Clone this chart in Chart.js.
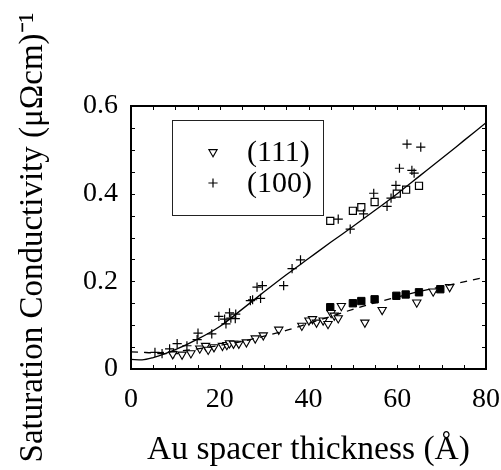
<!DOCTYPE html>
<html>
<head>
<meta charset="utf-8">
<script src="https://cdn.jsdelivr.net/npm/chart.js@4.4.1/dist/chart.umd.min.js"></script>
<style>
  html, body { margin: 0; padding: 0; background: #fff; }
  #wrap { width: 501px; height: 470px; }
</style>
</head>
<body>
<div id="wrap"><canvas id="c" width="501" height="470"></canvas></div>
<script>
// ---------- data ----------
const seriesLabels = ['(111)', '(100)'];

const thickness111 = [9.4, 11.5, 13.5, 15.5, 16.8, 17.4, 18.7, 20.6, 21.6, 22.2, 23.1, 24.3, 26.0, 28.0, 29.8, 33.3, 38.5, 40.1, 40.9, 41.8, 43.3, 44.4, 45.1, 45.8, 46.7, 47.4, 52.7, 56.6, 64.4, 68.1, 71.8];
const cond111      = [0.034, 0.033, 0.036, 0.047, 0.053, 0.044, 0.050, 0.053, 0.055, 0.059, 0.058, 0.058, 0.061, 0.070, 0.077, 0.090, 0.099, 0.111, 0.114, 0.106, 0.111, 0.103, 0.128, 0.122, 0.116, 0.144, 0.106, 0.135, 0.152, 0.177, 0.187];

const thickness100 = [5.4, 7.0, 8.7, 9.6, 10.4, 12.6, 14.9, 15.1, 18.2, 19.8, 21.1, 21.4, 22.2, 22.5, 23.6, 23.5, 26.9, 27.4, 28.4, 29.6, 29.2, 34.4, 36.3, 38.2, 46.7, 49.4, 52.4, 54.7, 57.7, 58.6, 59.7, 60.5, 62.2, 63.3, 63.8, 65.3];
const cond100      = [0.038, 0.035, 0.046, 0.035, 0.058, 0.053, 0.067, 0.082, 0.080, 0.120, 0.114, 0.103, 0.128, 0.116, 0.125, 0.115, 0.156, 0.158, 0.187, 0.190, 0.161, 0.190, 0.229, 0.249, 0.342, 0.319, 0.354, 0.401, 0.371, 0.390, 0.419, 0.458, 0.513, 0.453, 0.447, 0.506];

const thicknessOpenSq = [44.9, 50.0, 51.9, 54.9, 59.9, 62.0, 64.9];
const condOpenSq      = [0.338, 0.361, 0.369, 0.381, 0.400, 0.409, 0.418];

const thicknessFilledSq = [44.9, 50.0, 51.9, 54.9, 59.8, 61.9, 64.9, 69.7];
const condFilledSq      = [0.141, 0.150, 0.155, 0.159, 0.167, 0.170, 0.175, 0.182];

const fitThickness = [0, 2.5, 5, 10, 15, 20, 25, 30, 35, 40, 45, 50, 55, 60, 65, 70, 75, 80];
const fitSolid     = [0.022, 0.021, 0.026, 0.044, 0.068, 0.097, 0.136, 0.176, 0.215, 0.252, 0.289, 0.325, 0.362, 0.400, 0.440, 0.480, 0.521, 0.562];
const fitDashed    = [0.039, 0.038, 0.037, 0.040, 0.046, 0.054, 0.063, 0.075, 0.088, 0.104, 0.120, 0.136, 0.151, 0.164, 0.177, 0.188, 0.199, 0.210];

const xTickValues = [0, 20, 40, 60, 80];
const yTickValues = [0, 0.2, 0.4, 0.6];
const yTickLabels = ['0', '0.2', '0.4', '0.6'];
const xMinorStep = 5;
const yMinorStep = 0.05;

const xTitle = 'Au spacer thickness (Å)';
const yTitle = 'Saturation Conductivity (μΩcm)⁻¹';

// ---------- build ----------
const pts = (xs, ys) => xs.map((x, i) => ({ x: x, y: ys[i] }));
const SERIF = '"Liberation Serif", "Times New Roman", serif';

const framePlugin = {
  id: 'frameTicks',
  afterDatasetsDraw(chart) {
    const { ctx, chartArea: a, scales } = chart;
    const xs = scales.x, ys = scales.y;
    ctx.save();
    ctx.strokeStyle = '#000';
    ctx.lineWidth = 1;
    const tl = 4;
    ctx.beginPath();
    for (let v = xs.min; v <= xs.max + 1e-9; v += xMinorStep) {
      const px = Math.round(xs.getPixelForValue(v)) + 0.5;
      ctx.moveTo(px, a.bottom); ctx.lineTo(px, a.bottom - tl);
      ctx.moveTo(px, a.top); ctx.lineTo(px, a.top + tl);
    }
    for (let v = ys.min; v <= ys.max + 1e-9; v += yMinorStep) {
      const py = Math.round(ys.getPixelForValue(v)) + 0.5;
      ctx.moveTo(a.left, py); ctx.lineTo(a.left + tl, py);
      ctx.moveTo(a.right, py); ctx.lineTo(a.right - tl, py);
    }
    ctx.stroke();
    ctx.lineWidth = 2;
    ctx.strokeRect(a.left, a.top, a.right - a.left, a.bottom - a.top);
    ctx.restore();
  }
};

const legendPlugin = {
  id: 'boxLegend',
  afterDraw(chart) {
    const { ctx, chartArea: a } = chart;
    const bx = a.left + 41, by = a.top + 14, bw = 151, bh = 95;
    ctx.save();
    ctx.strokeStyle = '#222';
    ctx.lineWidth = 1;
    ctx.fillStyle = '#fff';
    ctx.fillRect(bx, by, bw, bh);
    ctx.strokeRect(bx + 0.5, by + 0.5, bw, bh);
    const rows = [
      { ds: chart.data.datasets[2], y: by + 32 },
      { ds: chart.data.datasets[3], y: by + 63 }
    ];
    ctx.font = '30px ' + SERIF;
    ctx.textBaseline = 'middle';
    ctx.textAlign = 'left';
    rows.forEach(r => {
      const ds = r.ds;
      const opts = {
        pointStyle: ds.pointStyle, radius: ds.pointRadius, rotation: ds.rotation || 0,
        borderWidth: ds.borderWidth
      };
      ctx.fillStyle = ds.backgroundColor;
      ctx.strokeStyle = ds.borderColor;
      ctx.lineWidth = ds.borderWidth;
      Chart.helpers.drawPoint(ctx, opts, bx + 41, r.y);
      ctx.fillStyle = '#000';
      ctx.fillText(ds.label, bx + 75, r.y + 1);
    });
    ctx.restore();
  }
};

new Chart(document.getElementById('c'), {
  type: 'scatter',
  data: {
    datasets: [
      { label: 'fit (100)', data: pts(fitThickness, fitSolid), showLine: true, pointRadius: 0,
        borderColor: '#000', borderWidth: 1.3, cubicInterpolationMode: 'monotone', fill: false },
      { label: 'fit (111)', data: pts(fitThickness, fitDashed), showLine: true, pointRadius: 0,
        borderColor: '#000', borderWidth: 1.3, borderDash: [7, 6], cubicInterpolationMode: 'monotone', fill: false },
      { label: seriesLabels[0], data: pts(thickness111, cond111), pointStyle: 'triangle', rotation: 180,
        pointRadius: 4.8, backgroundColor: '#fff', borderColor: '#000', borderWidth: 1.1 },
      { label: seriesLabels[1], data: pts(thickness100, cond100), pointStyle: 'cross',
        pointRadius: 4.6, backgroundColor: '#000', borderColor: '#000', borderWidth: 1.2 },
      { label: 'open squares', data: pts(thicknessOpenSq, condOpenSq), pointStyle: 'rect',
        pointRadius: 5, backgroundColor: '#fff', borderColor: '#000', borderWidth: 1.2 },
      { label: 'filled squares', data: pts(thicknessFilledSq, condFilledSq), pointStyle: 'rect',
        pointRadius: 5.2, backgroundColor: '#000', borderColor: '#000', borderWidth: 1 }
    ]
  },
  options: {
    responsive: false,
    animation: false,
    events: [],
    layout: { padding: { left: 0, right: 15, top: 106, bottom: 0 } },
    plugins: { legend: { display: false }, tooltip: { enabled: false } },
    scales: {
      x: {
        type: 'linear', min: 0, max: 80,
        afterBuildTicks: s => { s.ticks = xTickValues.map(v => ({ value: v })); },
        afterFit: s => { s.height = 101; s.paddingLeft = 0; s.paddingRight = 0; },
        grid: { display: false, drawTicks: false },
        border: { display: false },
        ticks: { color: '#000', padding: 14, maxRotation: 0, font: { family: SERIF, size: 28 } },
        title: { display: true, text: xTitle, color: '#000', padding: { top: 0, bottom: 0 },
                 font: { family: SERIF, size: 33.5 } }
      },
      y: {
        type: 'linear', min: 0, max: 0.6,
        afterBuildTicks: s => { s.ticks = yTickValues.map(v => ({ value: v })); },
        afterFit: s => { s.width = 131; s.paddingTop = 0; s.paddingBottom = 0; },
        grid: { display: false, drawTicks: false },
        border: { display: false },
        ticks: { color: '#000', padding: 13, font: { family: SERIF, size: 28 },
                 callback: v => yTickLabels[yTickValues.indexOf(v)] ?? '' },
        title: { display: true, text: yTitle, color: '#000', padding: { top: 14, bottom: 0 },
                 font: { family: SERIF, size: 33 } }
      }
    }
  },
  plugins: [framePlugin, legendPlugin]
});
</script>
</body>
</html>
